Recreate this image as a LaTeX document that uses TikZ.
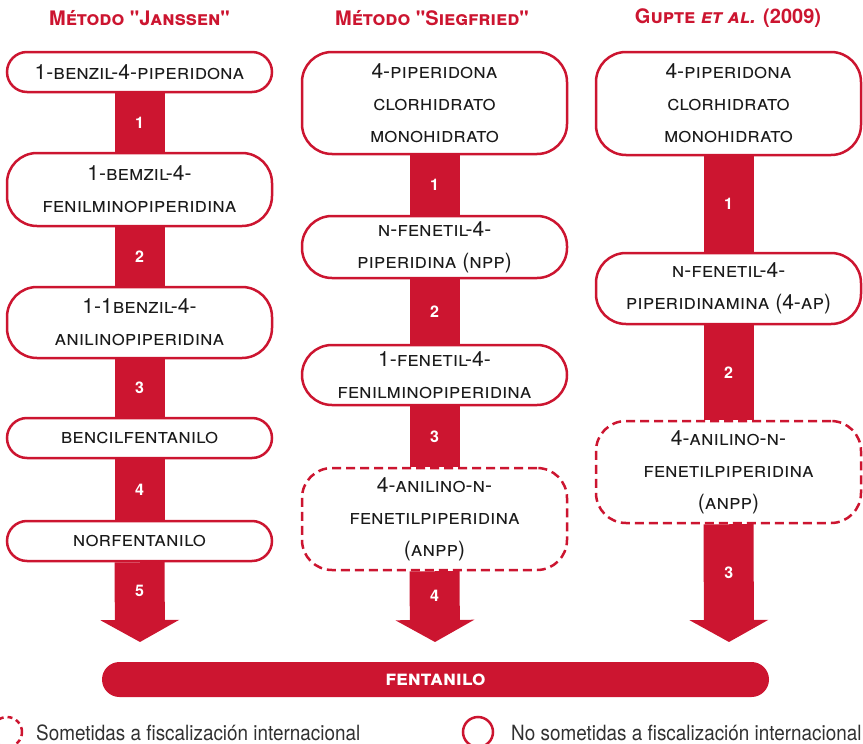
\documentclass[tikz,border=0pt]{standalone}
\usepackage{fontspec}
\setmainfont{TeX Gyre Heros}
\newfontfamily\cabezafont{TeX Gyre Heros}
\newfontfamily\leyendafont[FakeStretch=0.9]{TeX Gyre Heros}
\usepackage{xcolor}
\usepackage{tikz}
\usetikzlibrary{arrows.meta}
\usetikzlibrary{calc,backgrounds}
\definecolor{rojo}{HTML}{CC1530}
\definecolor{tinta}{HTML}{1A1A1A}
\tikzset{
 caja/.style={draw=rojo, line width=2.5pt, fill=white, rounded corners=30pt, minimum width=265pt, inner sep=0pt, align=center, text=tinta, font=\fontsize{21}{32}\selectfont\scshape},
 cajauna/.style={caja, rounded corners=20pt, minimum height=40pt},
 cajad/.style={caja, dash pattern=on 9pt off 5pt},
 barra/.style={draw=rojo, line width=50pt},
 flecha/.style={barra, -{Triangle[width=78pt,length=22pt]}},
 num/.style={text=white, font=\fontsize{16}{16}\selectfont\bfseries},
 titulo/.style={text=rojo, font=\fontsize{20}{20}\selectfont\cabezafont\bfseries\scshape},
 leyenda/.style={text=tinta!90, anchor=base west, inner sep=0pt, font=\fontsize{21}{21}\selectfont\leyendafont}
}

\begin{document}
\begin{tikzpicture}[x=1pt, y=-1pt]
\useasboundingbox (0,0) rectangle (863,744);
\node[titulo] (tj) at (139.5,18) {Método "Janssen"};
\node[titulo] (ts) at (432,18) {Método "Siegfried"};
\node[titulo] (tg) at (728,18) {Gupte \textit{et al.} (2009)};

\node[cajauna] (a1) at (139.5,72) {1-benzil-4-piperidona};
\node[caja, minimum height=73pt] (a2) at (139.5,189.5) {1-bemzil-4-\\fenilminopiperidina};
\node[caja, minimum height=71pt] (a3) at (139.5,322.5) {1-1benzil-4-\\anilinopiperidina};
\node[cajauna] (a4) at (139.5,438) {bencilfentanilo};
\node[cajauna] (a5) at (139.5,541) {norfentanilo};

\node[caja, minimum height=102pt] (b1) at (434.5,103) {4-piperidona\\clorhidrato\\monohidrato};
\node[caja, minimum height=62pt] (b2) at (434.5,247) {n-fenetil-4-\\piperidina (npp)};
\node[caja, minimum height=60pt] (b3) at (434.5,375) {1-fenetil-4-\\fenilminopiperidina};
\node[cajad, minimum height=102pt] (b4) at (434.5,519) {4-anilino-n-\\fenetilpiperidina\\(anpp)};

\node[caja, minimum height=103pt] (c1) at (728.5,103.5) {4-piperidona\\clorhidrato\\monohidrato};
\node[caja, minimum height=71pt] (c2) at (728.5,288.5) {n-fenetil-4-\\piperidinamina (4-ap)};
\node[cajad, minimum height=102pt] (c3) at (728.5,472) {4-anilino-n-\\fenetilpiperidina\\(anpp)};

\node[fill=rojo, rounded corners=17.5pt, minimum width=667pt, minimum height=35pt, text=white, font=\fontsize{21}{21}\selectfont\bfseries\scshape] (fent) at (435.5,679.5) {fentanilo};

\coordinate (finA) at (140,642);
\coordinate (finB) at (435,642);
\coordinate (finC) at (729,642);

\begin{scope}[on background layer]
\foreach \a/\b/\n in {a1/a2/1, a2/a3/2, a3/a4/3, a4/a5/4, b1/b2/1, b2/b3/2, b3/b4/3, c1/c2/1, c2/c3/2} {
 \draw[barra] (\a.south) -- (\b.north) node[num, midway] {\n};
}
\draw[flecha] (a5.south) -- (finA) node[num, pos=.36] {5};
\draw[flecha] (b4.south) -- (finB) node[num, pos=.35] {4};
\draw[flecha] (c3.south) -- (finC) node[num, pos=.41] {3};
\end{scope}

\draw[rojo, line width=2.5pt, dash pattern=on 5pt off 4pt] (7,732) circle (15pt);
\node[leyenda] (ls) at (36,740) {Sometidas a fiscalización internacional};
\draw[rojo, line width=2.5pt] (478,732) circle (15pt);
\node[leyenda] (ln) at (511,740) {No sometidas a fiscalización internacional};
\end{tikzpicture}
\end{document}
